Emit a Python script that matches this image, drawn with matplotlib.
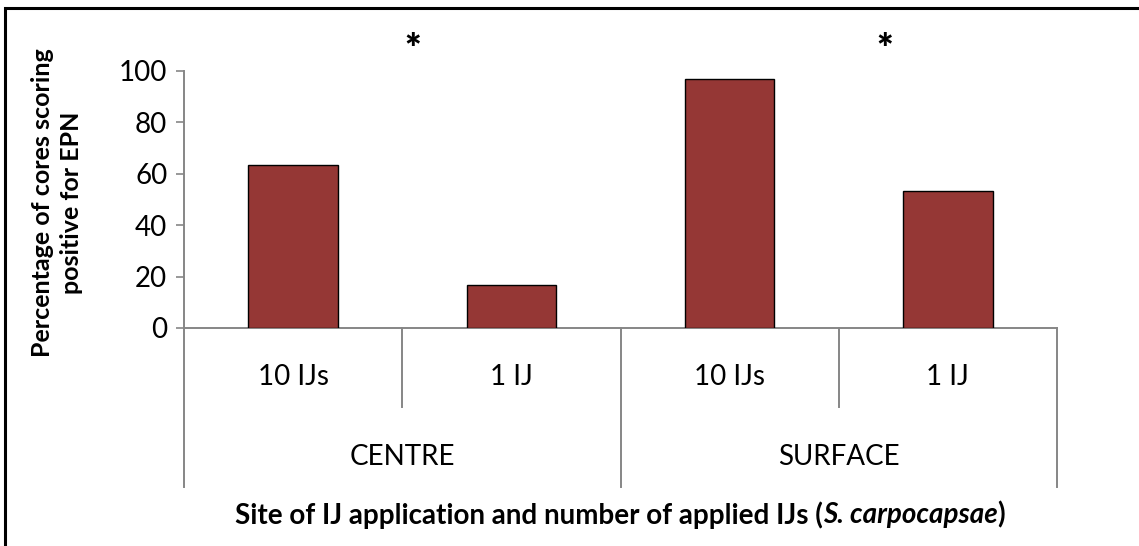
import matplotlib
matplotlib.use('Agg')
import matplotlib.pyplot as plt
from matplotlib.patches import Rectangle
import numpy as np

plt.rcParams['font.family'] = ['Lato', 'DejaVu Sans']

# data
groups = ['CENTRE', 'SURFACE']
doses = ['10 IJs', '1 IJ', '10 IJs', '1 IJ']
values = [63.3, 16.7, 96.7, 53.3]
signif = ['*', '*']

bar_color = '#953735'
axis_grey = '#868686'

fig = plt.figure(figsize=(11.39, 5.46), dpi=100)
ax = fig.add_axes([184/1139, 1 - 328/546, (1057-184)/1139, (328-70.7)/546])

x = np.arange(len(values))
ax.bar(x, values, width=0.41, color=bar_color, edgecolor='black', linewidth=1.0, zorder=3)

ax.set_xlim(-0.5, len(values) - 0.5)
ax.set_ylim(0, 100)
ax.set_yticks(np.arange(0, 101, 20))
ax.tick_params(axis='y', direction='out', length=6, width=1.2, color=axis_grey,
               labelsize=20, pad=6)
ax.set_xticks([])
for s in ['top', 'right']:
    ax.spines[s].set_visible(False)
for s in ['left', 'bottom']:
    ax.spines[s].set_color(axis_grey)
    ax.spines[s].set_linewidth(1.4)

# category axis (two levels)
tr = ax.get_xaxis_transform()
for i, lab in enumerate(doses):
    ax.text(i, -0.19, lab, transform=tr, ha='center', va='center', fontsize=20)
for b in [0.5, 2.5]:
    ax.plot([b, b], [0, -0.307], transform=tr, color=axis_grey, lw=1.4, clip_on=False)
for b in [-0.5, 1.5, 3.5]:
    ax.plot([b, b], [0, -0.619], transform=tr, color=axis_grey, lw=1.4, clip_on=False)
for g, lab in enumerate(groups):
    ax.text(2*g + 0.5, -0.502, lab, transform=tr, ha='center', va='center', fontsize=20)

# significance stars
for xs, s in zip([0.55, 2.71], signif):
    ax.text(xs, 108, s, ha='center', va='center', fontsize=28, fontweight='heavy', clip_on=False)

# y label
fig.text(57/1139, 1 - 203/546, 'Percentage of cores scoring\npositive for EPN', rotation=90,
         ha='center', va='center', fontsize=18, fontweight='bold', linespacing=1.3)

# x label with italic species name
parts = [('Site of IJ application and number of applied IJs (', 'normal'),
         ('S. carpocapsae', 'italic'), (')', 'normal')]
ylab = 1 - 515/546
texts = [fig.text(0, ylab, p, fontsize=20, fontweight='bold', style=st, va='center', ha='left')
         for p, st in parts]
fig.canvas.draw()
r = fig.canvas.get_renderer()
widths = [t.get_window_extent(r).width for t in texts]
xstart = 620 - sum(widths) / 2
for t, w in zip(texts, widths):
    t.set_x(xstart / 1139)
    xstart += w

# outer border (cut off at right/bottom like the reference)
fig.patches.append(Rectangle((5/1139, -0.05), 1.2, 1 - 8/546 + 0.05, transform=fig.transFigure,
                             fill=False, edgecolor='black', linewidth=2.2))

fig.savefig('out.png', dpi=100)
